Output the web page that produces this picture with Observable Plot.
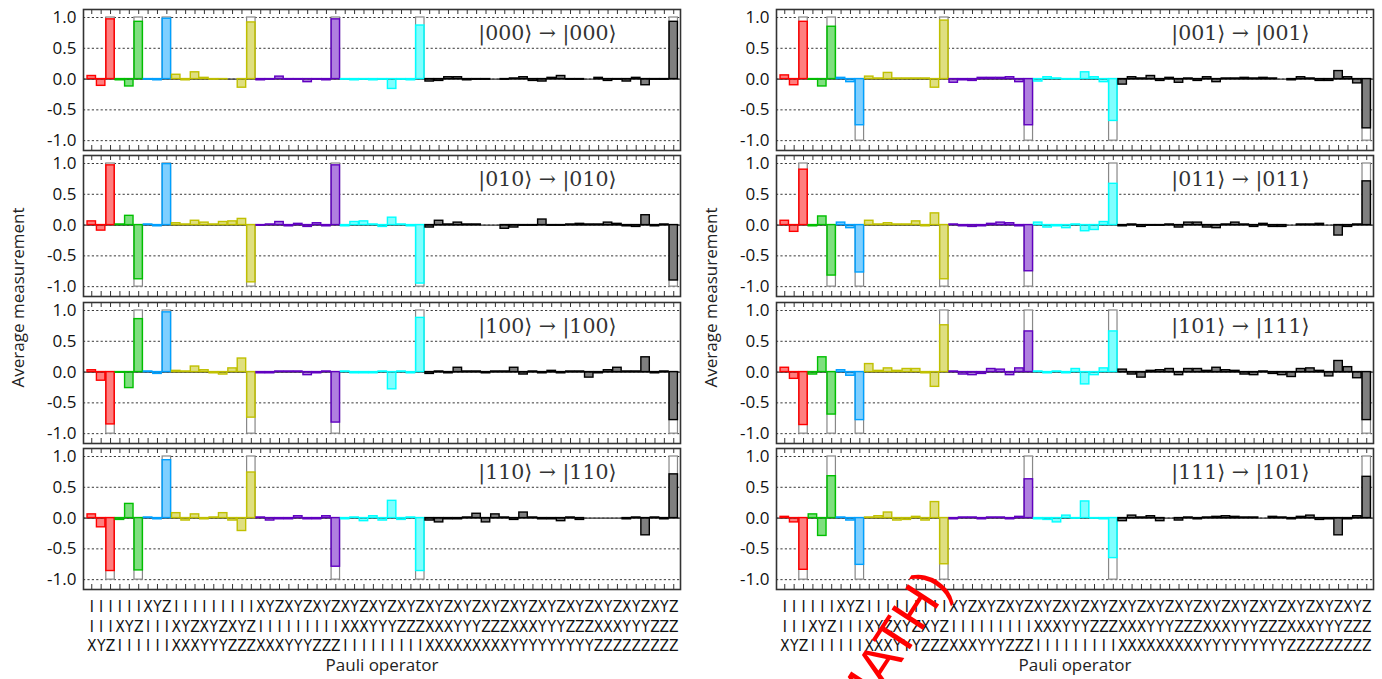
<!DOCTYPE html>
<html><head><meta charset="utf-8">
<script src="https://cdn.jsdelivr.net/npm/d3@7"></script>
<script src="https://cdn.jsdelivr.net/npm/@observablehq/plot@0.6"></script>
<style>
html,body{margin:0;padding:0;background:#fff;}
body{width:1382px;height:679px;overflow:hidden;position:relative;font-family:"Open Sans",sans-serif;}
.panel{position:absolute;}
.ylab{position:absolute;width:400px;text-align:center;font-size:17px;color:#222;transform:rotate(-90deg);transform-origin:center center;}
.wm{position:absolute;color:#ff0000;font-family:"Liberation Sans",sans-serif;font-size:54px;transform-origin:100% 100%;transform:rotate(-57deg);white-space:nowrap;line-height:1;}
</style></head><body>
<script>
// Pauli operator tick labels (three qubits, one row each)
const row1 = "IIIIIIXYZIIIIIIIIIXYZXYZXYZXYZXYZXYZXYZXYZXYZXYZXYZXYZXYZXYZXYZ";
const row2 = "IIIXYZIIIXYZXYZXYZIIIIIIIIIXXXYYYZZZXXXYYYZZZXXXYYYZZZXXXYYYZZZ";
const row3 = "XYZIIIIIIXXXYYYZZZXXXYYYZZZIIIIIIIIIXXXXXXXXXYYYYYYYYYZZZZZZZZZ";
// colour groups of operators
const groupSizes = [3, 3, 3, 9, 9, 9, 27];
const groupColors = ["#ff0000", "#00c000", "#00a0ff", "#c0c000", "#6000c0", "#00ffff", "#000000"];
// ideal (non-zero) operators: IIZ, IZI, ZII, IZZ, ZIZ, ZZI, ZZZ
const idealPos = [2, 5, 8, 17, 26, 35, 62];
const yTicks = [-1, -0.5, 0, 0.5, 1];

const panelLabels = ["|000⟩ → |000⟩", "|010⟩ → |010⟩", "|100⟩ → |100⟩", "|110⟩ → |110⟩",
                     "|001⟩ → |001⟩", "|011⟩ → |011⟩", "|101⟩ → |111⟩", "|111⟩ → |101⟩"];

const v000 = [0.05,-0.11,0.97, -0.02,-0.12,0.93, -0.01,-0.02,0.98, 0.07,-0.02,0.11,0.02,-0.01,-0.005,0.0,-0.14,0.92, -0.02,-0.01,0.04,-0.01,-0.01,-0.05,-0.01,-0.02,0.97, -0.01,-0.02,-0.01,-0.02,-0.01,-0.16,-0.01,-0.02,0.87, -0.04,-0.03,0.03,0.03,-0.02,-0.01,-0.01,0.0,-0.01, 0.01,0.03,-0.03,-0.04,0.02,0.05,-0.01,-0.01,0.0, 0.02,-0.03,-0.01,-0.04,0.02,-0.1,-0.01,-0.01,0.93];
const v010 = [0.06,-0.09,0.97, 0.01,0.15,-0.88, 0.01,-0.02,0.99, 0.03,0.01,0.07,0.04,0.01,0.05,0.06,0.1,-0.93, -0.01,0.01,0.05,-0.02,0.02,-0.03,0.03,-0.02,0.97, -0.02,0.05,0.06,0.01,-0.03,0.12,0.01,-0.02,-0.95, -0.04,0.07,0.01,0.04,0.01,0.01,0.0,0.0,-0.06, -0.04,-0.01,-0.01,0.09,-0.01,-0.01,0.01,0.02,0.01, 0.01,0.04,0.02,-0.02,-0.03,0.16,-0.02,0.01,-0.9];
const v100 = [0.03,-0.14,-0.85, -0.01,-0.26,0.86, 0.01,-0.03,0.97, 0.02,0.01,0.09,0.03,-0.02,-0.04,0.06,0.22,-0.74, -0.02,-0.02,0.01,0.01,0.01,-0.05,-0.02,0.01,-0.82, 0.01,-0.02,-0.02,-0.02,0.01,-0.28,0.01,-0.02,0.88, -0.03,0.01,-0.02,0.07,0.01,0.01,-0.02,0.01,0.01, 0.07,-0.04,0.01,-0.02,0.02,-0.02,0.01,0.01,-0.09, -0.02,0.03,0.07,0.01,0.01,0.24,-0.02,0.01,-0.78];
const v110 = [0.06,-0.15,-0.86, -0.03,0.23,-0.85, 0.01,-0.02,0.94, 0.08,-0.04,0.06,-0.02,0.01,0.08,-0.04,-0.21,0.74, 0.01,-0.04,-0.02,-0.02,0.03,-0.02,-0.02,0.03,-0.79, -0.02,0.01,-0.05,0.03,-0.04,0.28,-0.03,0.01,-0.86, -0.04,-0.07,-0.02,-0.02,0.01,0.07,-0.07,0.06,0.01, -0.03,0.09,0.01,-0.02,-0.02,-0.05,0.01,-0.03,0.0, 0.0,0.0,0.0,-0.02,0.01,-0.28,0.01,-0.02,0.71];
const v001 = [0.06,-0.1,0.93, -0.01,-0.12,0.85, 0.02,-0.05,-0.75, 0.04,0.01,0.1,0.01,0.01,0.01,0.01,-0.14,0.95, -0.06,-0.02,-0.03,0.02,0.02,0.02,0.03,-0.05,-0.75, -0.04,0.03,0.01,-0.01,-0.01,0.11,0.03,-0.05,-0.68, -0.09,0.03,0.01,0.05,-0.03,0.02,-0.06,0.01,-0.03, 0.03,-0.05,0.01,0.01,0.02,0.01,0.02,0.01,0.0, -0.02,0.03,0.01,-0.03,-0.03,0.13,0.03,-0.07,-0.8];
const v011 = [0.07,-0.11,0.9, -0.02,0.14,-0.82, 0.04,-0.05,-0.77, 0.07,0.01,0.03,0.01,0.01,0.06,-0.02,0.19,-0.88, 0.01,-0.02,-0.03,-0.02,0.02,0.04,0.03,-0.02,-0.75, 0.04,-0.04,-0.02,-0.05,0.01,-0.1,-0.08,0.05,0.67, -0.02,0.01,-0.03,-0.01,-0.01,0.01,-0.04,0.04,0.04, -0.04,-0.05,0.01,0.04,0.01,-0.03,0.02,-0.03,-0.03, 0.0,0.01,0.01,0.02,0.0,-0.17,-0.03,0.01,0.71];
const v101 = [0.07,-0.11,-0.86, -0.04,0.24,-0.69, 0.03,-0.06,-0.78, 0.13,0.02,0.06,0.02,0.05,0.05,-0.02,-0.24,0.76, 0.01,-0.04,-0.05,-0.03,0.05,0.04,-0.05,0.06,0.66, 0.01,-0.02,0.01,-0.02,0.05,-0.2,-0.05,0.06,0.66, 0.04,-0.04,-0.09,0.02,0.03,0.05,-0.05,0.05,0.05, 0.02,0.07,0.03,0.02,-0.04,-0.05,0.01,-0.03,-0.05, -0.08,0.05,0.06,0.02,-0.07,0.18,0.08,-0.1,-0.78];
const v111 = [0.02,-0.07,-0.84, 0.06,-0.29,0.68, 0.01,-0.04,-0.76, 0.01,0.03,0.09,-0.04,-0.03,0.02,-0.04,0.26,-0.75, -0.02,0.01,0.01,-0.02,0.01,0.01,-0.02,0.02,0.63, -0.02,-0.03,-0.07,0.04,-0.01,0.27,-0.01,-0.02,-0.65, -0.05,0.04,0.01,0.03,-0.05,0.0,-0.04,0.01,-0.02, 0.01,0.02,0.03,0.02,0.01,0.01,0.0,0.02,0.01, -0.02,0.02,0.04,-0.03,-0.02,-0.28,-0.02,0.03,0.67];

const i000 = [1,1,1,1,1,1,1];
const i010 = [1,-1,1,-1,1,-1,-1];
const i100 = [-1,1,1,-1,-1,1,-1];
const i110 = [-1,-1,1,1,-1,-1,1];
const i001 = [1,1,-1,1,-1,-1,-1];
const i011 = [1,-1,-1,-1,-1,1,1];
const i101 = [-1,-1,-1,1,1,1,-1];
const i111 = [-1,1,-1,-1,1,-1,1];

const panels = [
  {col:0,row:0,vals:v000,ideal:i000,label:panelLabels[0]},
  {col:0,row:1,vals:v010,ideal:i010,label:panelLabels[1]},
  {col:0,row:2,vals:v100,ideal:i100,label:panelLabels[2]},
  {col:0,row:3,vals:v110,ideal:i110,label:panelLabels[3]},
  {col:1,row:0,vals:v001,ideal:i001,label:panelLabels[4]},
  {col:1,row:1,vals:v011,ideal:i011,label:panelLabels[5]},
  {col:1,row:2,vals:v101,ideal:i101,label:panelLabels[6]},
  {col:1,row:3,vals:v111,ideal:i111,label:panelLabels[7]}
];

const groupOf = groupSizes.flatMap((n, g) => Array(n).fill(g));
const idx = d3.range(row1.length);
const BW = 0.9, XD = [-0.43, 63.17], YD = [-1.16, 1.13];
const FL = 83, FW = 597, FH = 141, COLSTEP = 693;
const sans = '"Open Sans", sans-serif';

function makePanel(p) {
  const bottom = p.row === 3;
  const bars = p.vals.map((v, i) => ({i, v, c: groupColors[groupOf[i]]}));
  const ideal = idealPos.map((pos, k) => ({i: pos, v: p.ideal[k]}));
  const tickLen = 5 / (FH / (YD[1] - YD[0]));
  const marks = [
    Plot.ruleY(yTicks, {stroke: "#222", strokeWidth: 0.9, strokeDasharray: "2.2,2.2"}),
    Plot.ruleY([0], {stroke: "#333", strokeWidth: 1.2}),
    Plot.rectY(ideal, {x1: d => d.i, x2: d => d.i + BW, y1: 0, y2: "v", fill: "#fff", stroke: "#888", strokeWidth: 1.2}),
    Plot.rectY(bars, {x1: d => d.i, x2: d => d.i + BW, y1: 0, y2: "v", fill: "c", fillOpacity: 0.5, stroke: "c", strokeWidth: 1.4}),
    Plot.ruleX(idx, {x: i => i + BW / 2, y1: YD[1], y2: YD[1] - tickLen, stroke: "#333", strokeWidth: 1}),
    Plot.ruleX(idx, {x: i => i + BW / 2, y1: YD[0], y2: YD[0] + tickLen, stroke: "#333", strokeWidth: 1}),
    Plot.frame({stroke: "#333", strokeWidth: 1.6}),
    Plot.axisY(yTicks, {tickSize: 0, tickPadding: 7, tickFormat: d => d.toFixed(1), fontSize: 17, fill: "#111", label: null}),
    Plot.text([p.label], {frameAnchor: "top-right", dx: -64, dy: 24, textAnchor: "end", lineAnchor: "middle",
      fontFamily: '"DejaVu Serif", "Liberation Serif", serif', fontSize: 20.5, fill: "#333"})
  ];
  if (bottom) {
    marks.push(
      Plot.text(idx, {x: i => i + BW / 2, text: i => row1[i] + "\n" + row2[i] + "\n" + row3[i],
        frameAnchor: "bottom", lineAnchor: "top", dy: 9, fontSize: 15.5, lineHeight: 1.25,
        fontFamily: '"Liberation Sans Narrow", "DejaVu Sans Condensed", sans-serif', fill: "#111"}),
      Plot.text(["Pauli operator"], {frameAnchor: "bottom", dy: 76, lineAnchor: "middle", fontSize: 17, fill: "#222"})
    );
  }
  const chart = Plot.plot({
    width: FL + FW + 6, height: FH + 2 + (bottom ? 90 : 0),
    marginLeft: FL, marginRight: 6, marginTop: 1, marginBottom: 1 + (bottom ? 90 : 0),
    x: {domain: XD, axis: null},
    y: {domain: YD, axis: null},
    color: {type: "identity"},
    style: {fontFamily: sans, background: "transparent", overflow: "visible"},
    marks
  });
  const wrap = document.createElement("div");
  wrap.className = "panel";
  wrap.style.left = (p.col * COLSTEP) + "px";
  wrap.style.top = (7.5 + p.row * 146.5) + "px";
  wrap.appendChild(chart);
  document.body.appendChild(wrap);
}
panels.forEach(makePanel);

for (const c of [0, 1]) {
  const d = document.createElement("div");
  d.className = "ylab";
  d.textContent = "Average measurement";
  d.style.left = (c * COLSTEP + 17 - 200) + "px";
  d.style.top = (298 - 12) + "px";
  document.body.appendChild(d);
}
const wm = document.createElement("div");
wm.className = "wm";
wm.textContent = "(MATH)";
wm.style.right = (1382 - 958) + "px";
wm.style.bottom = (679 - 590) + "px";
document.body.appendChild(wm);
</script>
</body></html>
